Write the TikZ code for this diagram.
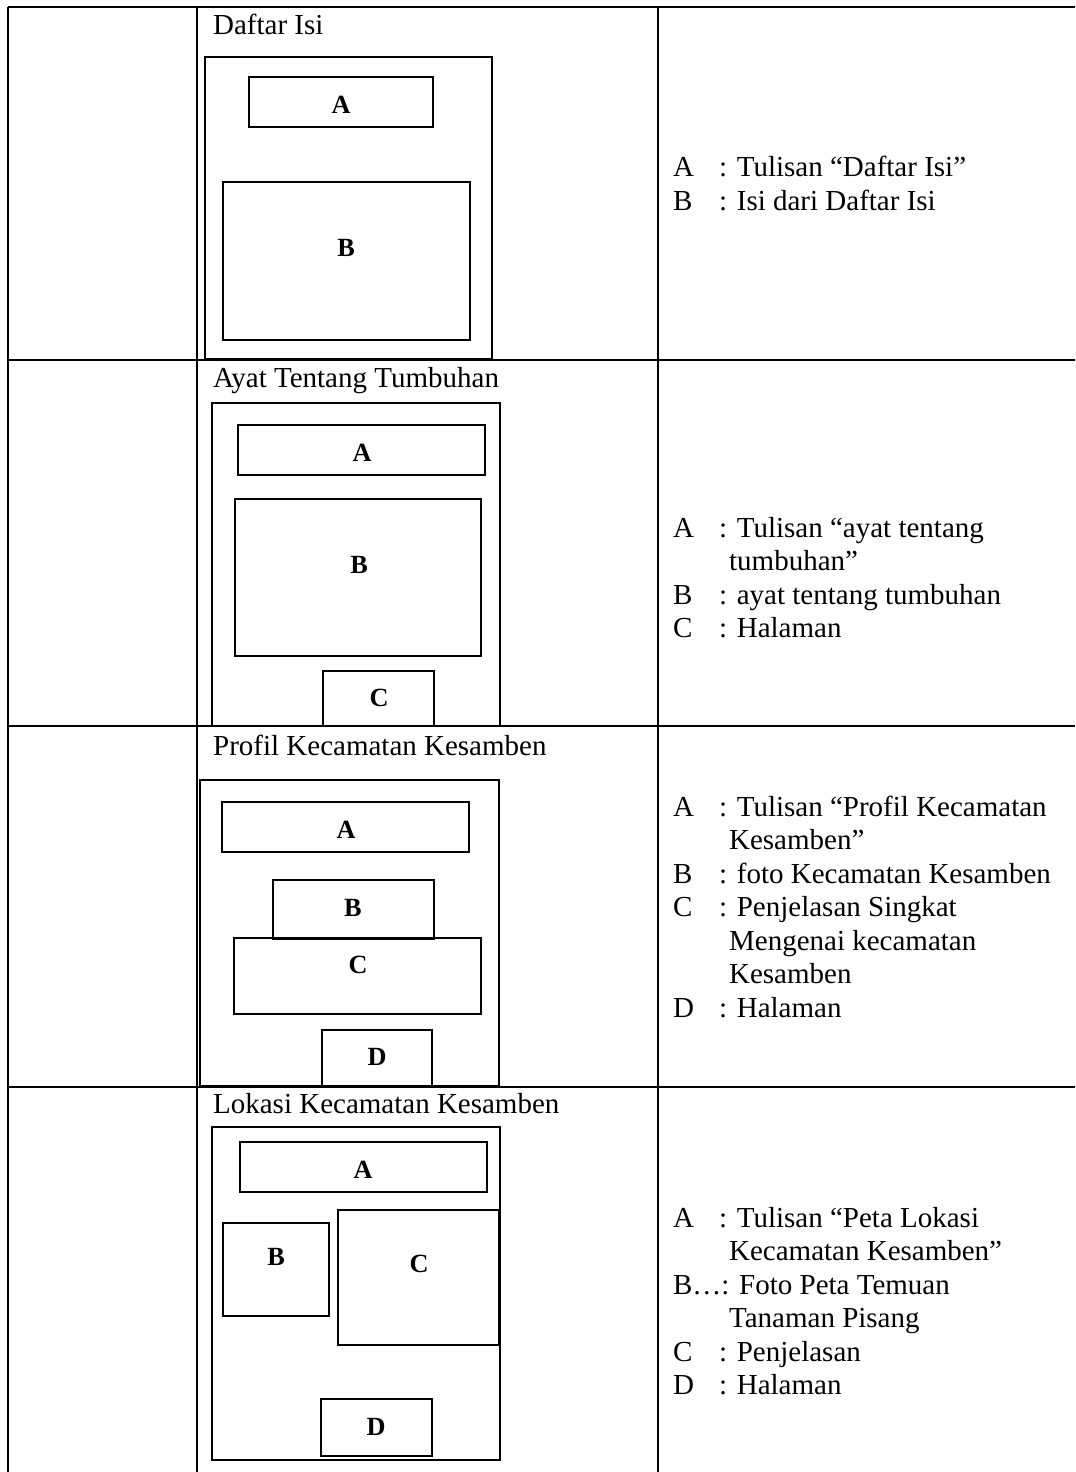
\documentclass[tikz,border=0pt]{standalone}
\usepackage{fontspec}
\setmainfont{Liberation Serif}

\newcommand{\butir}[2]{\makebox[18.4pt][l]{#1}: #2}
\newcommand{\lanjut}[1]{\hspace*{22.4pt}#1}

\begin{document}
\begin{tikzpicture}[x=0.4pt,y=-0.4pt,line width=0.9pt]
  \tikzstyle{kotak}=[draw=black,line width=0.9pt]
  \tikzstyle{huruf}=[inner sep=0pt,font=\fontsize{10.5}{12}\selectfont\bfseries]
  \tikzstyle{judul}=[anchor=base west,inner sep=0pt,font=\fontsize{11.6}{13.4}\selectfont]
  \tikzstyle{ket}=[anchor=base west,inner sep=0pt,font=\fontsize{11.6}{13.4}\selectfont]
  \useasboundingbox (0,0) rectangle (1075,1472);

  \draw (8,7) -- (1075,7);
  \foreach \y in {360,726,1087} \draw (8,\y) -- (1075,\y);
  \foreach \x in {8,197,658} \draw (\x,7) -- (\x,1472);

  \node[judul] (j1) at (212,35) {Daftar Isi};
  \draw[kotak] (205,57) rectangle (492,359);
  \draw[kotak] (249,77) rectangle (433,127);
  \draw[kotak] (223,182) rectangle (470,340);
  \node[huruf] (a1) at (341,105) {A};
  \node[huruf] (b1) at (346,248) {B};
  \node[ket] (k1) at (672,177) {\begin{tabular}[t]{@{}l@{}}
    \butir{A}{Tulisan “Daftar Isi”}\\
    \butir{B}{Isi dari Daftar Isi}
  \end{tabular}};

  \node[judul] (j2) at (212,387) {Ayat Tentang Tumbuhan};
  \draw[kotak] (212,403) rectangle (500,726);
  \draw[kotak] (238,425) rectangle (485,475);
  \draw[kotak] (235,499) rectangle (481,656);
  \draw[kotak] (323,671) rectangle (434,726);
  \node[huruf] (a2) at (362,453) {A};
  \node[huruf] (b2) at (359,565) {B};
  \node[huruf] (c2) at (379,698) {C};
  \node[ket] (k2) at (672,537) {\begin{tabular}[t]{@{}l@{}}
    \butir{A}{Tulisan “ayat tentang}\\
    \lanjut{tumbuhan”}\\
    \butir{B}{ayat tentang tumbuhan}\\
    \butir{C}{Halaman}
  \end{tabular}};

  \node[judul] (j3) at (212,755) {Profil Kecamatan Kesamben};
  \draw[kotak] (200,780) rectangle (499,1086);
  \draw[kotak] (222,802) rectangle (469,852);
  \draw[kotak] (273,880) rectangle (434,939);
  \draw[kotak] (234,938) rectangle (481,1014);
  \draw[kotak] (322,1030) rectangle (432,1086);
  \node[huruf] (a3) at (346,830) {A};
  \node[huruf] (b3) at (353,908) {B};
  \node[huruf] (c3) at (358,965) {C};
  \node[huruf] (d3) at (377,1057) {D};
  \node[ket] (k3) at (672,816) {\begin{tabular}[t]{@{}l@{}}
    \butir{A}{Tulisan “Profil Kecamatan}\\
    \lanjut{Kesamben”}\\
    \butir{B}{foto Kecamatan Kesamben}\\
    \butir{C}{Penjelasan Singkat}\\
    \lanjut{Mengenai kecamatan}\\
    \lanjut{Kesamben}\\
    \butir{D}{Halaman}
  \end{tabular}};

  \node[judul] (j4) at (212,1113) {Lokasi Kecamatan Kesamben};
  \draw[kotak] (212,1127) rectangle (500,1460);
  \draw[kotak] (240,1142) rectangle (487,1192);
  \draw[kotak] (223,1223) rectangle (329,1316);
  \draw[kotak] (338,1210) rectangle (499,1345);
  \draw[kotak] (321,1399) rectangle (432,1456);
  \node[huruf] (a4) at (363,1170) {A};
  \node[huruf] (b4) at (276,1257) {B};
  \node[huruf] (c4) at (419,1264) {C};
  \node[huruf] (d4) at (376,1427) {D};
  \node[ket] (k4) at (672,1227) {\begin{tabular}[t]{@{}l@{}}
    \butir{A}{Tulisan “Peta Lokasi}\\
    \lanjut{Kecamatan Kesamben”}\\
    B…: Foto Peta Temuan\\
    \lanjut{Tanaman Pisang}\\
    \butir{C}{Penjelasan}\\
    \butir{D}{Halaman}
  \end{tabular}};
\end{tikzpicture}
\end{document}
